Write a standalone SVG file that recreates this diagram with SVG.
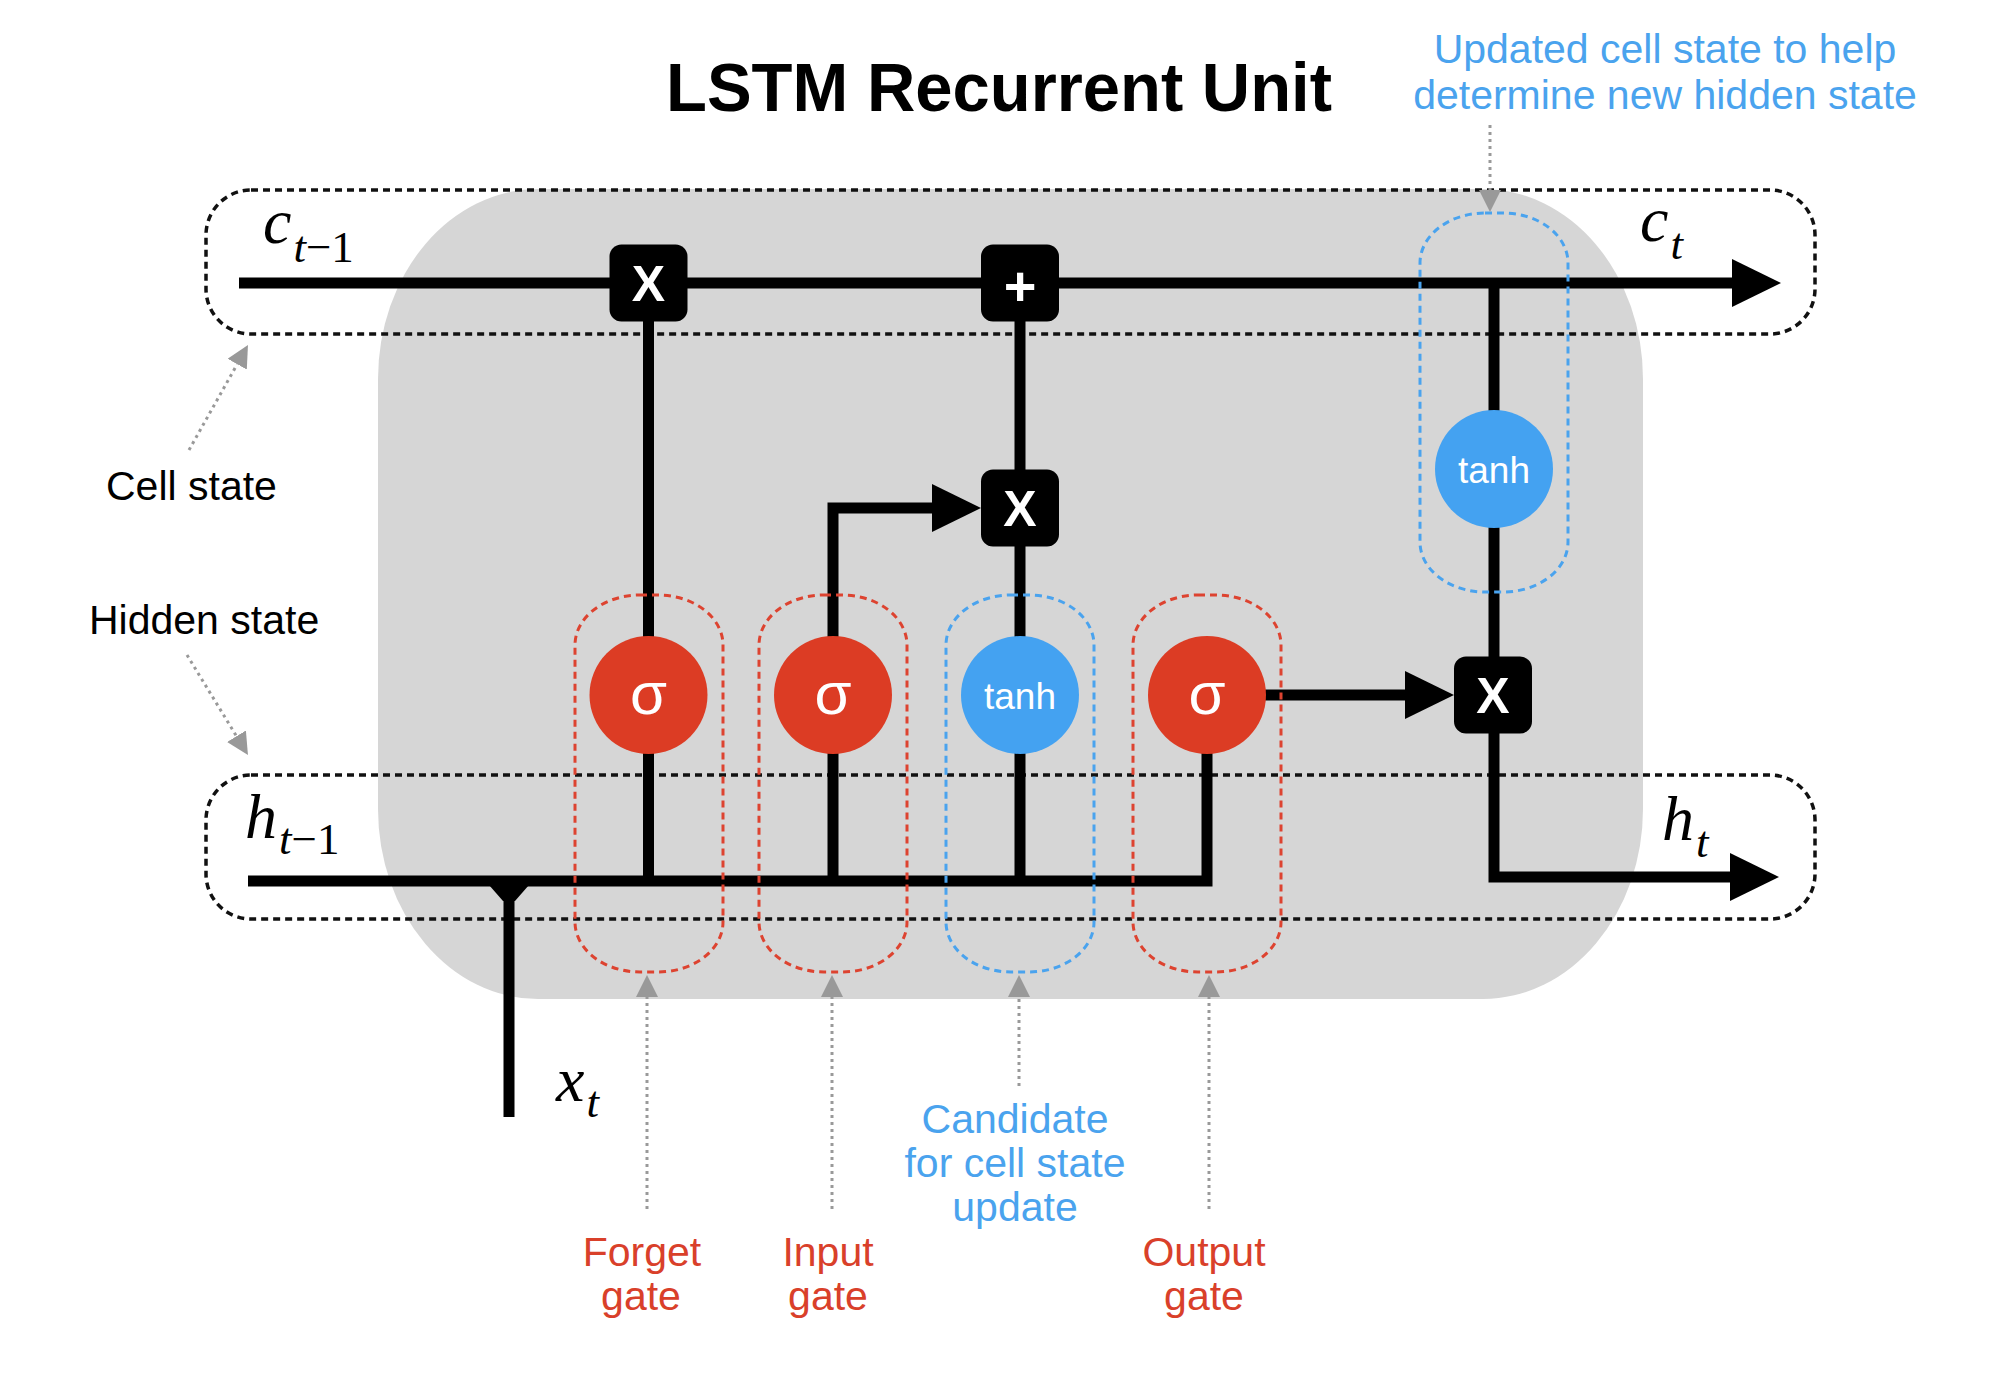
<svg xmlns="http://www.w3.org/2000/svg" width="2000" height="1386" viewBox="0 0 2000 1386">
<defs>
<style>
.bg{fill:#d6d6d6}
.dbox{fill:none;stroke:#111;stroke-width:3.5;stroke-dasharray:7 5}
.cap-r{fill:none;stroke:#dd4330;stroke-width:3;stroke-dasharray:7 5}
.cap-b{fill:none;stroke:#4aa3ee;stroke-width:3;stroke-dasharray:7 5}
.wire{fill:none;stroke:#000;stroke-width:11;stroke-linejoin:miter;stroke-linecap:butt}
.ptr{fill:none;stroke:#999;stroke-width:3;stroke-dasharray:3 4}
.op{fill:#000}
.red{fill:#dc3c24}
.blue{fill:#44a2f1}
.opt{font-family:"Liberation Sans",Arial,sans-serif;font-weight:bold;fill:#fff;text-anchor:middle}
.fn{font-family:"Liberation Sans",Arial,sans-serif;fill:#fff;text-anchor:middle}
.lbl{font-family:"Liberation Sans",Arial,sans-serif;font-size:41px}
.rt{fill:#d9402a;text-anchor:middle}
.bt{fill:#4aa3ee;text-anchor:middle}
.math{font-family:"Liberation Serif","Times New Roman",serif;font-style:italic;font-size:64px;fill:#000}
.sub{font-size:45px}
.up{font-style:normal}
</style>
<marker id="arr" viewBox="0 0 49 48" refX="4" refY="24" markerWidth="49" markerHeight="48" markerUnits="userSpaceOnUse" orient="auto">
<path d="M0,0 L49,24 L0,48 Z" fill="#000"/>
</marker>
<marker id="garr" viewBox="0 0 22 22" refX="0" refY="11" markerWidth="22" markerHeight="22" markerUnits="userSpaceOnUse" orient="auto">
<path d="M0,0 L22,11 L0,22 Z" fill="#999"/>
</marker>
</defs>

<rect width="2000" height="1386" fill="#fff"/>

<g id="unit-background">
<path class="bg" d="M538 189 H1483 A160 190 0 0 1 1643 379 V809 A160 190 0 0 1 1483 999 H538 A160 190 0 0 1 378 809 V379 A160 190 0 0 1 538 189 Z"/>
</g>

<g id="state-boxes">
<rect id="cell-state-box" class="dbox" x="206" y="190" width="1609" height="144" rx="45" ry="45"/>
<rect id="hidden-state-box" class="dbox" x="206" y="775" width="1609" height="144" rx="45" ry="45"/>
</g>

<g id="connectors">
<path class="wire" d="M239 283 H1736" marker-end="url(#arr)"/>
<path class="wire" d="M648.5 881 V283"/>
<path class="wire" d="M833 881 V508 H936" marker-end="url(#arr)"/>
<path class="wire" d="M1020 881 V283"/>
<path class="wire" d="M248 881 H1207 V695"/>
<path class="wire" d="M1264 695 H1409" marker-end="url(#arr)"/>
<path class="wire" d="M1494 283 V877 H1734" marker-end="url(#arr)"/>
<path class="wire" d="M509 881 V1117"/>
<polygon points="489,885 529,885 515,901 503,901" fill="#000"/>
</g>

<g id="gate-groups">
<rect id="forget-gate-group" class="cap-r" x="575" y="595" width="148" height="377" rx="65" ry="50"/>
<rect id="input-gate-group" class="cap-r" x="759" y="595" width="148" height="377" rx="65" ry="50"/>
<rect id="candidate-group" class="cap-b" x="946" y="595" width="148" height="377" rx="65" ry="50"/>
<rect id="output-gate-group" class="cap-r" x="1133" y="595" width="148" height="377" rx="65" ry="50"/>
<rect id="cell-tanh-group" class="cap-b" x="1420" y="213" width="148" height="379" rx="65" ry="50"/>
</g>

<g id="forget-mult">
<rect class="op" x="609.5" y="244.5" width="78" height="77" rx="12"/>
<text class="opt" x="648.5" y="301" font-size="50">X</text>
</g>
<g id="cell-add">
<rect class="op" x="981" y="244.5" width="78" height="77" rx="12"/>
<text class="opt" x="1020" y="305" font-size="56">+</text>
</g>
<g id="input-mult">
<rect class="op" x="981" y="469.5" width="78" height="77" rx="12"/>
<text class="opt" x="1020" y="526" font-size="50">X</text>
</g>
<g id="output-mult">
<rect class="op" x="1454" y="656.5" width="78" height="77" rx="12"/>
<text class="opt" x="1493" y="713" font-size="50">X</text>
</g>

<g id="forget-sigma">
<circle class="red" cx="648.5" cy="695" r="59"/>
<text class="fn" x="648.5" y="714" font-size="60">σ</text>
</g>
<g id="input-sigma">
<circle class="red" cx="833" cy="695" r="59"/>
<text class="fn" x="833" y="714" font-size="60">σ</text>
</g>
<g id="candidate-tanh">
<circle class="blue" cx="1020" cy="695" r="59"/>
<text class="fn" x="1020" y="709" font-size="37">tanh</text>
</g>
<g id="output-sigma">
<circle class="red" cx="1207" cy="695" r="59"/>
<text class="fn" x="1207" y="714" font-size="60">σ</text>
</g>
<g id="cell-tanh">
<circle class="blue" cx="1494" cy="469" r="59"/>
<text class="fn" x="1494" y="483" font-size="37">tanh</text>
</g>

<g id="pointers">
<path class="ptr" d="M189 450 L237.2 364.2" marker-end="url(#garr)"/>
<path class="ptr" d="M187 655 L236.5 736.2" marker-end="url(#garr)"/>
<path class="ptr" d="M1490 125 V190" marker-end="url(#garr)"/>
<path class="ptr" d="M647 1209 V997" marker-end="url(#garr)"/>
<path class="ptr" d="M832 1209 V997" marker-end="url(#garr)"/>
<path class="ptr" d="M1019 1086 V997" marker-end="url(#garr)"/>
<path class="ptr" d="M1209 1209 V997" marker-end="url(#garr)"/>
</g>

<g id="math-labels">
<text class="math" x="263" y="243">c<tspan class="sub" dy="19" dx="2">t</tspan><tspan class="sub up">−1</tspan></text>
<text class="math" x="1640" y="241">c<tspan class="sub" dy="18" dx="2">t</tspan></text>
<text class="math" x="245" y="838">h<tspan class="sub" dy="16" dx="2">t</tspan><tspan class="sub up">−1</tspan></text>
<text class="math" x="1662" y="840">h<tspan class="sub" dy="17" dx="2">t</tspan></text>
<text class="math" x="556" y="1101">x<tspan class="sub" dy="16" dx="2">t</tspan></text>
</g>

<g id="title">
<text x="999" y="111" font-family="'Liberation Sans',Arial,sans-serif" font-weight="bold" font-size="68" text-anchor="middle" textLength="666" lengthAdjust="spacingAndGlyphs">LSTM Recurrent Unit</text>
</g>

<g id="annotations">
<text class="lbl bt" x="1665" y="63">Updated cell state to help</text>
<text class="lbl bt" x="1665" y="109">determine new hidden state</text>
<text class="lbl" x="106" y="500">Cell state</text>
<text class="lbl" x="89" y="634">Hidden state</text>
<text class="lbl rt" x="642" y="1266">Forget</text>
<text class="lbl rt" x="641" y="1310">gate</text>
<text class="lbl rt" x="828" y="1266">Input</text>
<text class="lbl rt" x="828" y="1310">gate</text>
<text class="lbl bt" x="1015" y="1133">Candidate</text>
<text class="lbl bt" x="1015" y="1177">for cell state</text>
<text class="lbl bt" x="1015" y="1221">update</text>
<text class="lbl rt" x="1204" y="1266">Output</text>
<text class="lbl rt" x="1204" y="1310">gate</text>
</g>
</svg>
